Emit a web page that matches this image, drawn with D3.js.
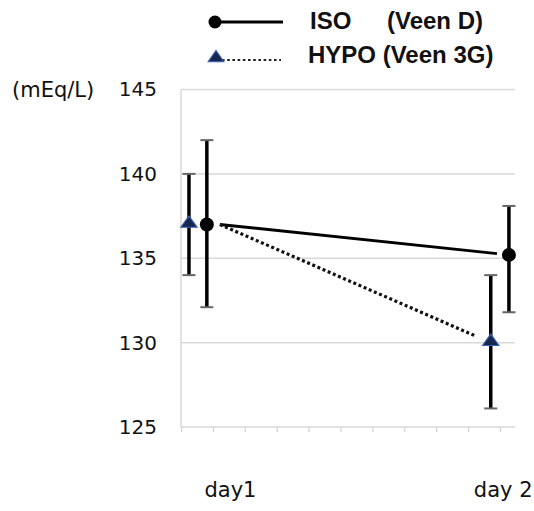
<!DOCTYPE html>
<html>
<head>
<meta charset="utf-8">
<script src="https://cdn.jsdelivr.net/npm/d3@7"></script>
<style>
  body { margin: 0; background: #fff; }
  text { font-family: "DejaVu Sans", Verdana, sans-serif; fill: #111; }
</style>
</head>
<body>
<div id="chart"></div>
<script>
// data
var days = ["day1", "day 2"];
var yTicks = [125, 130, 135, 140, 145];

var isoMean = [137, 135.2];
var isoLow = [132.1, 131.8];
var isoHigh = [142, 138.1];

var hypoMean = [137, 130];
var hypoLow = [134, 126.1];
var hypoHigh = [140, 134];

var svgWidth = 534;
var svgHeight = 511;

var svg = d3.select("#chart")
    .append("svg")
    .attr("width", svgWidth)
    .attr("height", svgHeight);

// x runs over 10 minor slots between the two days
var xScale = d3.scaleLinear().domain([0, 10]).range([181, 500]);
var yScale = d3.scaleLinear().domain([125, 145]).range([427, 89.5]);

// where each series sits in x units (day index -> slot)
var isoSlots = [0.81, 10.28];
var hypoSlots = [0.25, 9.71];
var labelSlots = [1.55, 10.1];
var lineStart = 1.22;

// gridlines
svg.append("g")
    .selectAll("line")
    .data(yTicks.filter(d => d > 125))
    .enter()
    .append("line")
    .attr("x1", 181)
    .attr("x2", 515)
    .attr("y1", d => yScale(d))
    .attr("y2", d => yScale(d))
    .attr("stroke", "#d9d9d9")
    .attr("stroke-width", 1.5);

// left axis line
svg.append("line")
    .attr("x1", 181).attr("x2", 181)
    .attr("y1", yScale(145)).attr("y2", yScale(125))
    .attr("stroke", "#d9d9d9")
    .attr("stroke-width", 1.5);

// bottom axis with minor ticks
var bottomAxis = d3.axisBottom(xScale)
    .tickValues(d3.range(0, 11))
    .tickFormat("")
    .tickSizeInner(5)
    .tickSizeOuter(0);

var xAxis = svg.append("g")
    .attr("transform", `translate(0, ${yScale(125)})`)
    .call(bottomAxis);
xAxis.select(".domain").remove();
xAxis.selectAll("line").attr("stroke", "#d0d0d0").attr("stroke-width", 1.2);
xAxis.append("line")
    .attr("x1", 181).attr("x2", 515)
    .attr("y1", 0).attr("y2", 0)
    .attr("stroke", "#d9d9d9")
    .attr("stroke-width", 1.5);

// y tick labels
var leftAxis = d3.axisLeft(yScale).tickValues(yTicks).tickSize(0).tickPadding(0);
var yAxis = svg.append("g")
    .attr("transform", "translate(157,0)")
    .call(leftAxis);
yAxis.select(".domain").remove();
yAxis.selectAll("text")
    .style("font-family", "'DejaVu Sans', sans-serif")
    .style("font-size", "20px")
    .attr("fill", "#111");

svg.append("text")
    .attr("x", 12)
    .attr("y", 97)
    .style("font-size", "21px")
    .text("(mEq/L)");

// day labels
svg.selectAll("text.day")
    .data(days)
    .enter()
    .append("text")
    .classed("day", true)
    .attr("x", (d, i) => xScale(labelSlots[i]))
    .attr("y", 497)
    .attr("text-anchor", "middle")
    .style("font-size", "21px")
    .text(d => d);

// connecting lines, trimmed before the day 2 marker
function trimmedLine(mean, slots, gap) {
    var x0 = xScale(lineStart), y0 = yScale(mean[0]);
    var x1 = xScale(slots[1]), y1 = yScale(mean[1]);
    var len = Math.hypot(x1 - x0, y1 - y0);
    var t = (len - gap) / len;
    return [[x0, y0], [x0 + (x1 - x0) * t, y0 + (y1 - y0) * t]];
}

var line = d3.line();

svg.append("path")
    .attr("d", line(trimmedLine(isoMean, isoSlots, 12)))
    .attr("stroke", "#000")
    .attr("stroke-width", 3)
    .attr("fill", "none");

svg.append("path")
    .attr("d", line(trimmedLine(hypoMean, hypoSlots, 16)))
    .attr("stroke", "#111")
    .attr("stroke-width", 3.2)
    .attr("stroke-dasharray", "3,2.6")
    .attr("fill", "none");

// error bars
function errorBars(slots, low, high) {
    var g = svg.append("g");
    slots.forEach(function(s, i) {
        var cx = xScale(s);
        g.append("line")
            .attr("x1", cx).attr("x2", cx)
            .attr("y1", yScale(high[i])).attr("y2", yScale(low[i]))
            .attr("stroke", "#000").attr("stroke-width", 3.5);
        [low[i], high[i]].forEach(function(v) {
            g.append("line")
                .attr("x1", cx - 6.5).attr("x2", cx + 6.5)
                .attr("y1", yScale(v)).attr("y2", yScale(v))
                .attr("stroke", "#666").attr("stroke-width", 2);
        });
    });
}
errorBars(hypoSlots, hypoLow, hypoHigh);
errorBars(isoSlots, isoLow, isoHigh);

var triangle = d3.symbol().type(d3.symbolTriangle).size(75);

svg.selectAll("path.hypo")
    .data(hypoMean)
    .enter()
    .append("path")
    .classed("hypo", true)
    .attr("d", triangle)
    .attr("transform", (d, i) => `translate(${xScale(hypoSlots[i])},${yScale(d) - 1}) scale(1.25,1)`)
    .attr("fill", "#16274f")
    .attr("stroke", "#3a62b0")
    .attr("stroke-width", 1);

svg.selectAll("circle.iso")
    .data(isoMean)
    .enter()
    .append("circle")
    .classed("iso", true)
    .attr("cx", (d, i) => xScale(isoSlots[i]))
    .attr("cy", d => yScale(d))
    .attr("r", 7)
    .attr("fill", "#000");

// legend
var legend = svg.append("g");
legend.append("line")
    .attr("x1", 215).attr("x2", 283).attr("y1", 22).attr("y2", 22)
    .attr("stroke", "#000").attr("stroke-width", 3);
legend.append("circle")
    .attr("cx", 215).attr("cy", 22).attr("r", 6.5).attr("fill", "#000");
legend.append("line")
    .attr("x1", 222).attr("x2", 281).attr("y1", 60).attr("y2", 60)
    .attr("stroke", "#222").attr("stroke-width", 2.2)
    .attr("stroke-dasharray", "2.6,2.6");
legend.append("path")
    .attr("d", triangle)
    .attr("transform", "translate(216,58) scale(1.2,1)")
    .attr("fill", "#16274f")
    .attr("stroke", "#3a62b0")
    .attr("stroke-width", 1);

var legendFont = "'Liberation Sans', Arial, sans-serif";
legend.append("text")
    .attr("x", 310).attr("y", 29)
    .style("font-family", legendFont)
    .style("font-size", "24px").style("font-weight", "bold")
    .text("ISO");
legend.append("text")
    .attr("x", 387).attr("y", 29)
    .style("font-family", legendFont)
    .style("font-size", "24px").style("font-weight", "bold")
    .text("(Veen D)");
legend.append("text")
    .attr("x", 308).attr("y", 63)
    .style("font-family", legendFont)
    .style("font-size", "24px").style("font-weight", "bold")
    .text("HYPO (Veen 3G)");
</script>
</body>
</html>
